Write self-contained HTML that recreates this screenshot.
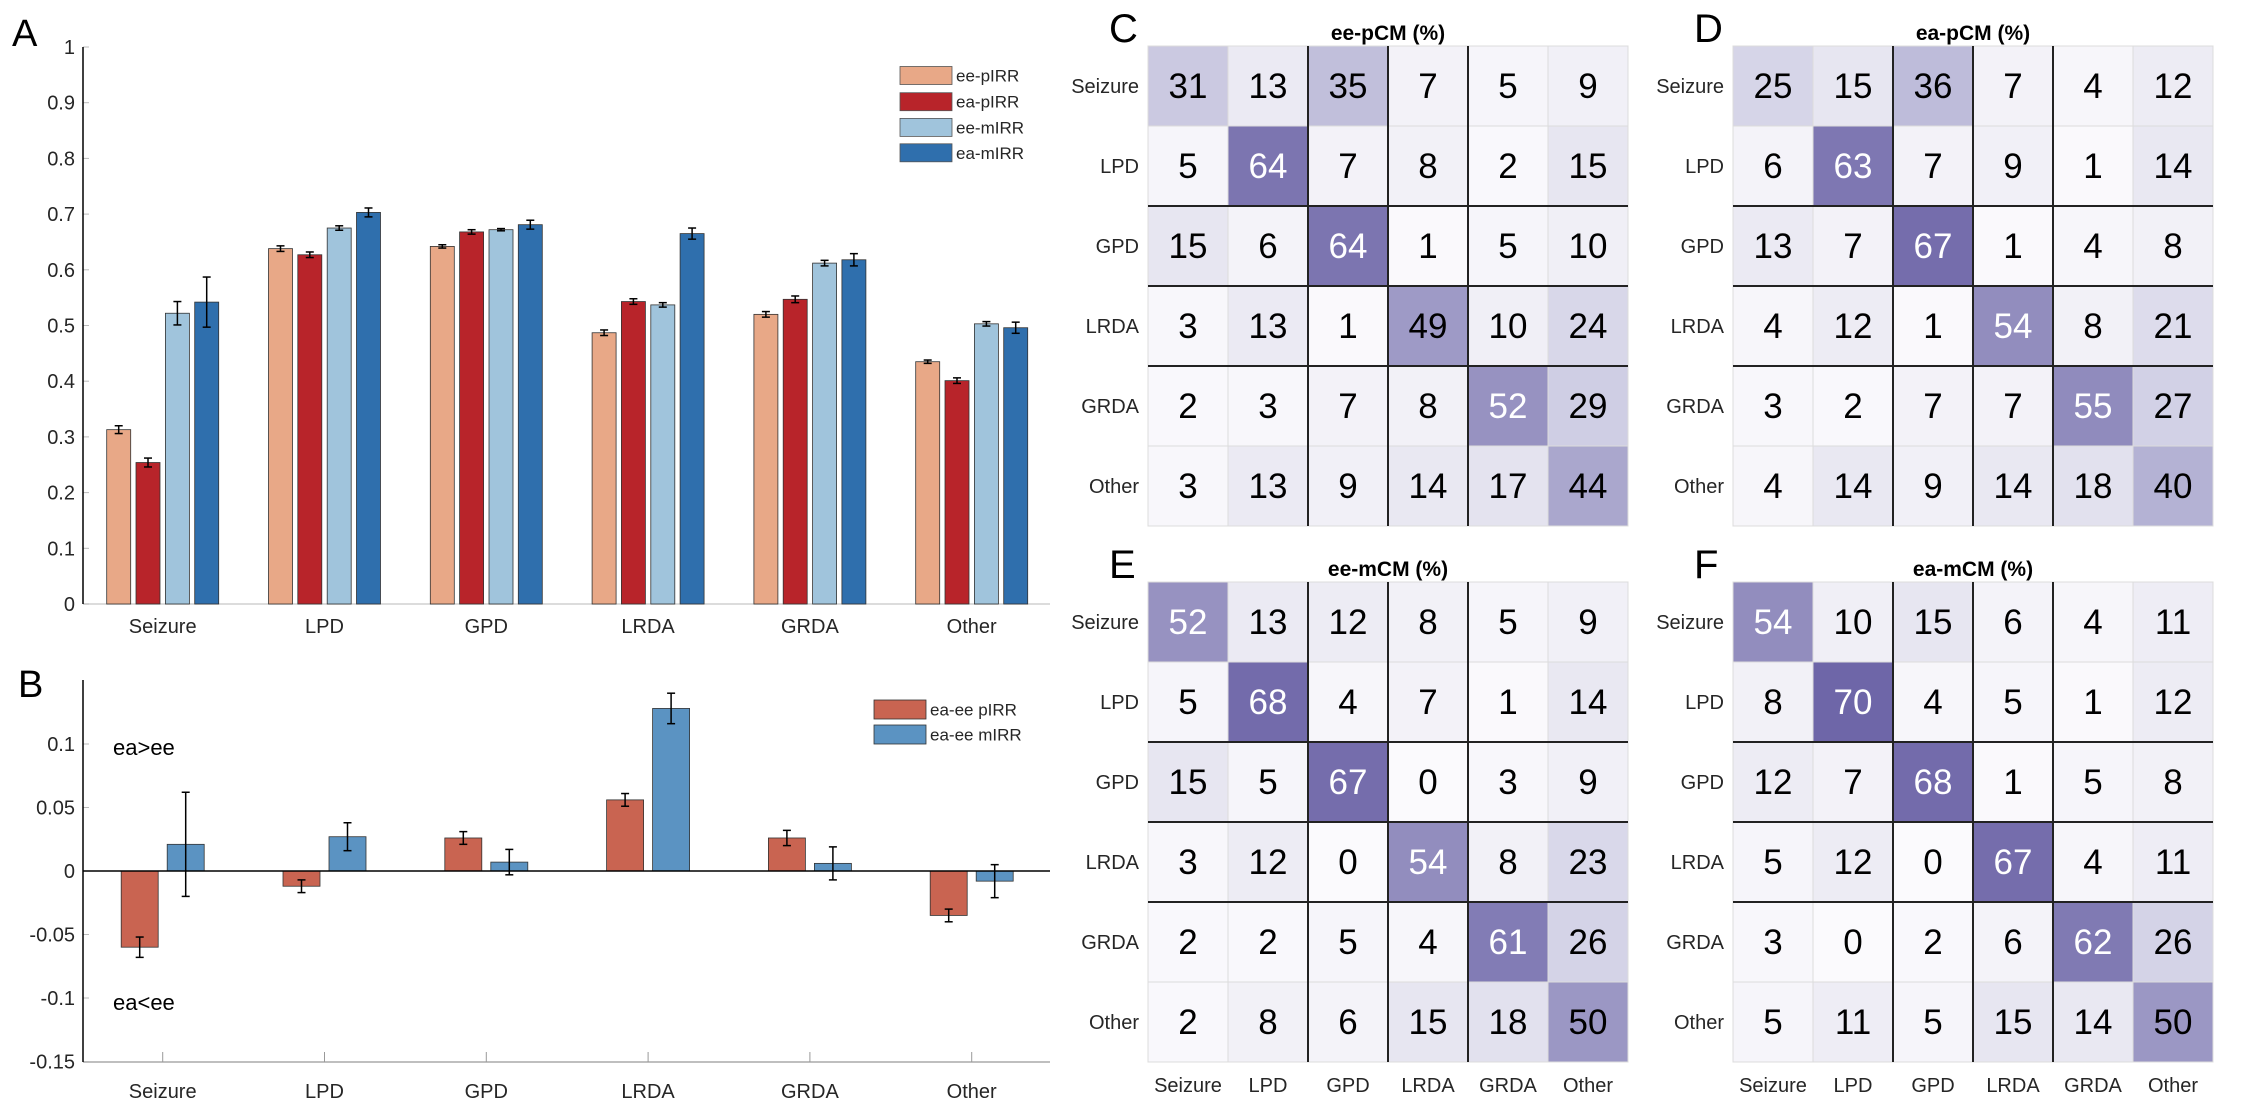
<!DOCTYPE html>
<html><head><meta charset="utf-8"><style>
html,body{margin:0;padding:0;background:#fff;}
svg{display:block;font-family:"Liberation Sans",Arial,sans-serif;}
</style></head><body>
<svg id="fig" width="2246" height="1120" viewBox="0 0 2246 1120" xmlns="http://www.w3.org/2000/svg">
<rect width="2246" height="1120" fill="#fff"/>
</svg>
<script>
const categories = ["Seizure","LPD","GPD","LRDA","GRDA","Other"];
const seriesA = ["ee-pIRR","ea-pIRR","ee-mIRR","ea-mIRR"];
const eePIRR = [0.313,0.638,0.642,0.487,0.520,0.435];
const eaPIRR = [0.254,0.627,0.668,0.543,0.547,0.401];
const eeMIRR = [0.522,0.675,0.672,0.537,0.612,0.503];
const eaMIRR = [0.542,0.703,0.681,0.665,0.618,0.496];
const eePIRRerr = [0.007,0.005,0.003,0.005,0.005,0.003];
const eaPIRRerr = [0.008,0.005,0.004,0.005,0.006,0.005];
const eeMIRRerr = [0.021,0.004,0.002,0.004,0.005,0.004];
const eaMIRRerr = [0.045,0.008,0.008,0.010,0.011,0.010];
const ticksA = [0,0.1,0.2,0.3,0.4,0.5,0.6,0.7,0.8,0.9,1];
const tickLabelsA = ["0","0.1","0.2","0.3","0.4","0.5","0.6","0.7","0.8","0.9","1"];
const seriesB = ["ea-ee pIRR","ea-ee mIRR"];
const diffP = [-0.060,-0.012,0.026,0.056,0.026,-0.035];
const diffM = [0.021,0.027,0.007,0.128,0.006,-0.008];
const diffPerr = [0.008,0.005,0.005,0.005,0.006,0.005];
const diffMerr = [0.041,0.011,0.010,0.012,0.013,0.013];
const ticksB = [0.1,0.05,0,-0.05,-0.1,-0.15];
const tickLabelsB = ["0.1","0.05","0","-0.05","-0.1","-0.15"];
const cmC = [[31,13,35,7,5,9],[5,64,7,8,2,15],[15,6,64,1,5,10],[3,13,1,49,10,24],[2,3,7,8,52,29],[3,13,9,14,17,44]];
const cmD = [[25,15,36,7,4,12],[6,63,7,9,1,14],[13,7,67,1,4,8],[4,12,1,54,8,21],[3,2,7,7,55,27],[4,14,9,14,18,40]];
const cmE = [[52,13,12,8,5,9],[5,68,4,7,1,14],[15,5,67,0,3,9],[3,12,0,54,8,23],[2,2,5,4,61,26],[2,8,6,15,18,50]];
const cmF = [[54,10,15,6,4,11],[8,70,4,5,1,12],[12,7,68,1,5,8],[5,12,0,67,4,11],[3,0,2,6,62,26],[5,11,5,15,14,50]];

const NS="http://www.w3.org/2000/svg";
const svg=document.getElementById('fig');
function mk(tag,attrs,parent){const e=document.createElementNS(NS,tag);for(const k in attrs)e.setAttribute(k,attrs[k]);(parent||svg).appendChild(e);return e;}
function txt(x,y,s,size,anchor,extra,parent){const t=mk('text',Object.assign({x:x,y:y,'font-size':size,'text-anchor':anchor||'start',fill:'#262626'},extra||{}),parent);t.textContent=s;return t;}

// common x
const cx0=162.7, cstep=161.8;
function xCat(i){return cx0+i*cstep;}

// ---------- Panel A ----------
const gA=mk('g',{});


function yA(v){return 604-v*557;}
const la=txt(12,46,'A',38,'start',{fill:'#000'},gA);


mk('line',{x1:83,y1:604,x2:1050,y2:604,stroke:'#d0d0d0','stroke-width':1.5},gA);
ticksA.forEach((v,i)=>{
  mk('line',{x1:83,y1:yA(v),x2:89,y2:yA(v),stroke:'#bbb','stroke-width':1},gA);
  const t=txt(75,yA(v)+7,tickLabelsA[i],20,'end',{},gA);
  
  
});
mk('line',{x1:83,y1:47,x2:83,y2:604,stroke:'#000','stroke-width':1.5},gA);
const valsA=[eePIRR,eaPIRR,eeMIRR,eaMIRR];
const errsA=[eePIRRerr,eaPIRRerr,eeMIRRerr,eaMIRRerr];
const colA=['#e8a887','#b8242a','#a0c4dc','#2f6fad'];
const offA=[-44,-14.7,14.7,44];
categories.forEach((c,i)=>{
  const t=txt(xCat(i),633,c,20,'middle',{},gA);
  
  
  for(let s=0;s<4;s++){
    const v=valsA[s][i], e=errsA[s][i], x=xCat(i)+offA[s];
    const r=mk('rect',{x:x-12,y:yA(v),width:24,height:yA(0)-yA(v),fill:colA[s],stroke:'#333','stroke-width':0.8},gA);
    
    
    mk('line',{x1:x,y1:yA(v+e),x2:x,y2:yA(v-e),stroke:'#000','stroke-width':1.5},gA);
    mk('line',{x1:x-4,y1:yA(v+e),x2:x+4,y2:yA(v+e),stroke:'#000','stroke-width':1.5},gA);
    mk('line',{x1:x-4,y1:yA(v-e),x2:x+4,y2:yA(v-e),stroke:'#000','stroke-width':1.5},gA);
  }
});
const legYA=[75.5,101.7,127.4,152.8];
seriesA.forEach((s,k)=>{
  const g=mk('g',{},gA);
  
  
  mk('rect',{x:900,y:legYA[k]-9,width:52,height:18,fill:colA[k],stroke:'#555','stroke-width':0.8},g);
  txt(956,legYA[k]+6,s,17,'start',{},g);
});

// ---------- Panel B ----------
const gB=mk('g',{});


function yB(v){return 871-v*1270;}
const lb=txt(18,697,'B',38,'start',{fill:'#000'},gB);


mk('line',{x1:83,y1:1062,x2:1050,y2:1062,stroke:'#aaa','stroke-width':1.5},gB);
categories.forEach((c,i)=>{mk('line',{x1:xCat(i),y1:1062,x2:xCat(i),y2:1052,stroke:'#999','stroke-width':1},gB);});
ticksB.forEach((v,i)=>{
  mk('line',{x1:83,y1:yB(v),x2:89,y2:yB(v),stroke:'#bbb','stroke-width':1},gB);
  const t=txt(75,yB(v)+7,tickLabelsB[i],20,'end',{},gB);
  
  
});
mk('line',{x1:83,y1:680,x2:83,y2:1062,stroke:'#000','stroke-width':1.5},gB);
const valsB=[diffP,diffM], errsB=[diffPerr,diffMerr], colB=['#c96451','#5b93c2'], offB=[-23,23];
categories.forEach((c,i)=>{
  const t=txt(xCat(i),1098,c,20,'middle',{},gB);
  
  
  for(let s=0;s<2;s++){
    const v=valsB[s][i], e=errsB[s][i], x=xCat(i)+offB[s];
    const y1=Math.min(yB(v),yB(0)), h=Math.abs(yB(v)-yB(0));
    const r=mk('rect',{x:x-18.5,y:y1,width:37,height:h,fill:colB[s],stroke:'#333','stroke-width':0.8},gB);
    
    
    mk('line',{x1:x,y1:yB(v+e),x2:x,y2:yB(v-e),stroke:'#000','stroke-width':1.5},gB);
    mk('line',{x1:x-4,y1:yB(v+e),x2:x+4,y2:yB(v+e),stroke:'#000','stroke-width':1.5},gB);
    mk('line',{x1:x-4,y1:yB(v-e),x2:x+4,y2:yB(v-e),stroke:'#000','stroke-width':1.5},gB);
  }
});
mk('line',{x1:83,y1:yB(0),x2:1050,y2:yB(0),stroke:'#000','stroke-width':1.5},gB);
const a1=txt(113,755,'ea>ee',22,'start',{fill:'#000'},gB);


const a2=txt(113,1010,'ea<ee',22,'start',{fill:'#000'},gB);


const legYB=[709.5,734.5];
seriesB.forEach((s,k)=>{
  const g=mk('g',{},gB);
  
  
  mk('rect',{x:874,y:legYB[k]-9.5,width:52,height:19,fill:colB[k],stroke:'#333','stroke-width':0.8},g);
  txt(930,legYB[k]+6,s,17,'start',{},g);
});

// ---------- Heatmaps ----------
const stops=[[0,[251,250,253]],[10,[240,239,246]],[30,[205,204,227]],[50,[155,151,196]],[70,[110,102,168]]];
function color(v){
  for(let i=1;i<stops.length;i++){
    if(v<=stops[i][0]||i===stops.length-1){
      const [a,ca]=stops[i-1],[b,cb]=stops[i];const t=Math.max(0,Math.min(1,(v-a)/(b-a)));
      return 'rgb('+ca.map((c,j)=>Math.round(c+(cb[j]-c)*t)).join(',')+')';
    }
  }
}
const panels=[
  {m:cmC,x:1148,y:46,title:'ee-pCM (%)',letter:'C',bottom:false},
  {m:cmD,x:1733,y:46,title:'ea-pCM (%)',letter:'D',bottom:false},
  {m:cmE,x:1148,y:582,title:'ee-mCM (%)',letter:'E',bottom:true},
  {m:cmF,x:1733,y:582,title:'ea-mCM (%)',letter:'F',bottom:true}
];
const cs=80;
panels.forEach(p=>{
  const g=mk('g',{});
  
  
  const L=txt(p.x-39,p.y-4,p.letter,40,'start',{fill:'#000'},g);
  
  
  const T=txt(p.x+240,p.y-6,p.title,21,'middle',{fill:'#000','font-weight':'bold'},g);
  
  
  p.m.forEach((row,r)=>{
    const rl=txt(p.x-9,p.y+r*cs+cs/2+7,categories[r],20,'end',{},g);
    
    
    row.forEach((v,c)=>{
      const cell=mk('rect',{x:p.x+c*cs,y:p.y+r*cs,width:cs,height:cs,fill:color(v),stroke:'#dcdcdc','stroke-width':1},g);
      
      
      const t=txt(p.x+c*cs+cs/2,p.y+r*cs+cs/2+12,String(v),35,'middle',{fill:v>=51?'#fff':'#000'},g);
      
      
    });
  });
  [2,3,4].forEach(k=>{
    mk('line',{x1:p.x+k*cs,y1:p.y,x2:p.x+k*cs,y2:p.y+6*cs,stroke:'#222','stroke-width':2},g);
    mk('line',{x1:p.x,y1:p.y+k*cs,x2:p.x+6*cs,y2:p.y+k*cs,stroke:'#222','stroke-width':2},g);
  });
  if(p.bottom){
    categories.forEach((c,i)=>{
      const cl=txt(p.x+i*cs+cs/2,p.y+6*cs+30,c,20,'middle',{},g);
      
      
    });
  }
});
</script>
</body></html>
